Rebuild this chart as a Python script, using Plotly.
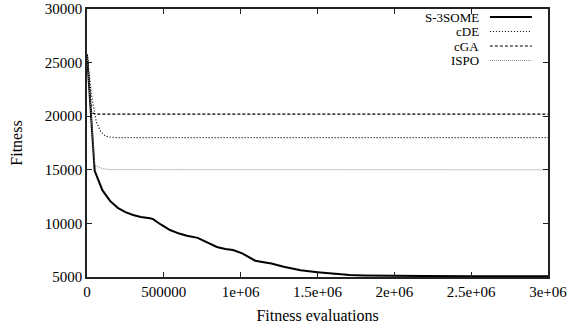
import plotly.graph_objects as go

# Fitness vs. evaluations for the four compared algorithms
s3some_x = [0, 50000, 100000, 150000, 200000, 250000, 300000, 350000, 410000,
            430000, 480000, 540000, 600000, 650000, 720000, 780000, 845000,
            900000, 950000, 1010000, 1050000, 1095000, 1150000, 1200000,
            1280000, 1390000, 1500000, 1600000, 1710000, 1800000, 1930000,
            2200000, 2500000, 3000000]
s3some_y = [25800, 14900, 13100, 12100, 11450, 11050, 10780, 10600, 10480,
            10400, 9900, 9380, 9050, 8850, 8650, 8250, 7800,
            7620, 7520, 7200, 6900, 6520, 6380, 6250,
            5950, 5620, 5450, 5300, 5190, 5150, 5110,
            5090, 5080, 5080]

cde_x = [0, 30000, 60000, 90000, 120000, 150000, 200000, 3000000]
cde_y = [25800, 21900, 19500, 18550, 18150, 18050, 18000, 18000]

cga_x = [0, 30000, 60000, 3000000]
cga_y = [25800, 20300, 20200, 20200]

ispo_x = [0, 50000, 100000, 150000, 3000000]
ispo_y = [25800, 15450, 15100, 15020, 15000]

x_ticks = [0, 500000, 1000000, 1500000, 2000000, 2500000, 3000000]
x_tick_text = ["0", "500000", "1e+06", "1.5e+06", "2e+06", "2.5e+06", "3e+06"]
y_ticks = [5000, 10000, 15000, 20000, 25000, 30000]
y_tick_text = ["5000", "10000", "15000", "20000", "25000", "30000"]

series = [
    ("S-3SOME", s3some_x, s3some_y, dict(color="black", width=2, dash="solid")),
    ("cDE", cde_x, cde_y, dict(color="black", width=1.2, dash="1px,2px")),
    ("cGA", cga_x, cga_y, dict(color="black", width=1.2, dash="3px,2px")),
    ("ISPO", ispo_x, ispo_y, dict(color="#8a8a8a", width=1, dash="1px,1px")),
]

FONT = "Liberation Serif"
fig = go.Figure()
for name, xs, ys, line in series:
    fig.add_trace(go.Scatter(x=xs, y=ys, mode="lines", name=name, line=line,
                             showlegend=False))

# key drawn in the upper right corner: label, then line sample
key_y = [0.9701, 0.9160, 0.8619, 0.8078]
for (name, _, _, line), ky in zip(series, key_y):
    fig.add_annotation(x=0.8525, y=ky, xref="paper", yref="paper", text=name,
                       showarrow=False, xanchor="right", yanchor="middle",
                       borderpad=0,
                       font=dict(family=FONT, size=13, color="black"))
    fig.add_shape(type="line", xref="paper", yref="paper", x0=0.874, x1=0.965,
                  y0=ky, y1=ky, line=line)

axis_common = dict(showline=True, linecolor="#222", linewidth=1.5, mirror="ticks",
                   ticks="inside", ticklen=5, tickcolor="#222", tickwidth=1,
                   showgrid=False, zeroline=False, automargin=False,
                   ticklabeloverflow="allow",
                   tickfont=dict(family=FONT, size=15, color="black"))

fig.update_xaxes(range=[0, 3000000], tickvals=x_ticks, ticktext=x_tick_text,
                 title=dict(text="Fitness evaluations", standoff=11,
                            font=dict(family=FONT, size=16, color="black")),
                 **axis_common)
fig.update_yaxes(range=[5000, 30000], tickvals=y_ticks, ticktext=y_tick_text,
                 title=dict(text="Fitness", standoff=18,
                            font=dict(family=FONT, size=16, color="black")),
                 **axis_common)

fig.update_layout(width=573, height=331, margin=dict(l=87, r=25, t=9, b=54),
                  plot_bgcolor="white", paper_bgcolor="white")

fig.write_html("out.html")
